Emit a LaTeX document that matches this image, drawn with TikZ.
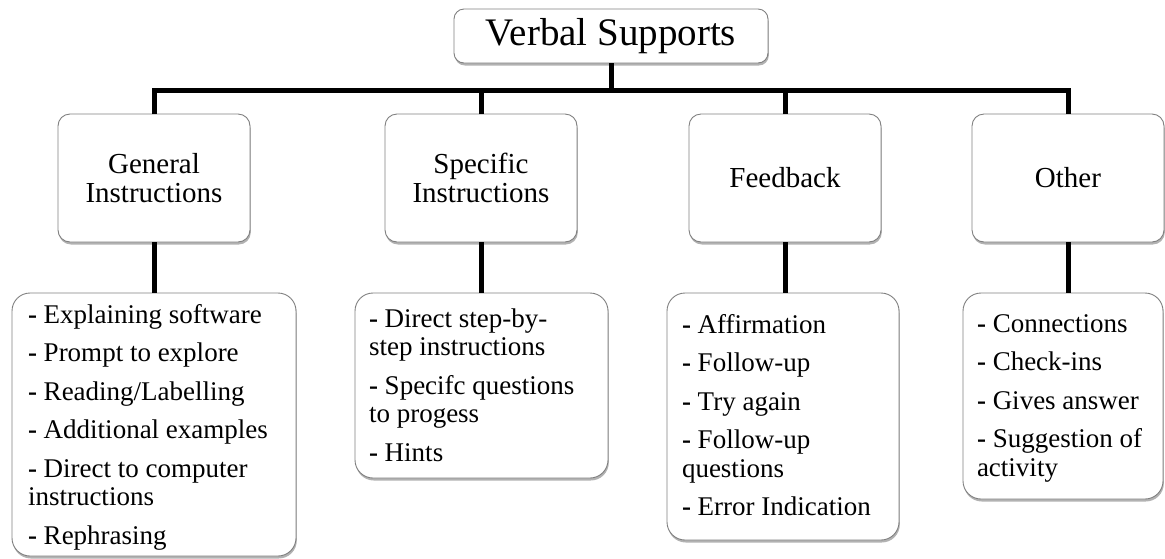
\documentclass[tikz,border=0pt]{standalone}
\usepackage{fontspec}
\setmainfont{Liberation Serif}
\usetikzlibrary{shadows}
\newcommand{\dd}{\textbf{-} }
\begin{document}
\begin{tikzpicture}[x=1pt,y=-1pt,
  box/.style={draw=black!50, line width=0.9pt, fill=white, inner sep=0pt, outer sep=0pt,
    drop shadow={shadow xshift=0.8pt, shadow yshift=-2.5pt, opacity=0.3, fill=black}},
  topbox/.style={box, rounded corners=10pt, minimum width=314pt, minimum height=54pt,
    font=\fontsize{39}{44}\selectfont},
  midbox/.style={box, rounded corners=12pt, minimum width=192pt, minimum height=128pt,
    align=center, font=\fontsize{29}{29}\selectfont},
  lowbox/.style={box, rounded corners=18pt, anchor=north west},
  itemtext/.style={anchor=north west, inner sep=0pt, outer sep=0pt, align=left,
    font=\fontsize{27}{28.5}\selectfont},
  conn/.style={line width=5pt, black}]
\useasboundingbox (0,0) rectangle (1165,558);
% level 0
\node[topbox] (top) at (611,36) {Verbal Supports};
% level 1
\node[midbox] (g) at (154,178) {General\\Instructions};
\node[midbox] (s) at (481,178) {Specific\\Instructions};
\node[midbox] (f) at (785,178) {Feedback};
\node[midbox] (o) at (1068,178) {Other};
% level 2 boxes
\node[lowbox, minimum width=284pt, minimum height=263pt] (b1) at (12,293) {};
\node[lowbox, minimum width=253pt, minimum height=185pt] (b2) at (355,293) {};
\node[lowbox, minimum width=232pt, minimum height=247pt] (b3) at (667,293) {};
\node[lowbox, minimum width=200pt, minimum height=206pt] (b4) at (963,293) {};
% level 2 texts
\node[itemtext] (t1) at (28,303) {\rule{0pt}{20pt}\dd Explaining software\\[10pt]
  \dd Prompt to explore\\[10pt]
  \dd Reading/Labelling\\[10pt]
  \dd Additional examples\\[10pt]
  \dd Direct to computer\\
  instructions\\[10pt]
  \dd Rephrasing};
\node[itemtext] (t2) at (369,307) {\rule{0pt}{20pt}\dd Direct step-by-\\
  step instructions\\[10pt]
  \dd Specifc questions\\
  to progess\\[10pt]
  \dd Hints};
\node[itemtext] (t3) at (682,313) {\rule{0pt}{20pt}\dd Affirmation\\[10pt]
  \dd Follow-up\\[10pt]
  \dd Try again\\[10pt]
  \dd Follow-up\\
  questions\\[10pt]
  \dd Error Indication};
\node[itemtext] (t4) at (977,312) {\rule{0pt}{20pt}\dd Connections\\[10pt]
  \dd Check-ins\\[10pt]
  \dd Gives answer\\[10pt]
  \dd Suggestion of\\
  activity};
% connectors
\coordinate (bus) at (611,90);
\draw[conn] (top.south) -- (bus);
\draw[conn] (g.north) |- (bus) -| (o.north);
\draw[conn] (s.north) -- (s.north |- bus);
\draw[conn] (f.north) -- (f.north |- bus);
\draw[conn] (g.south) -- (g.south |- b1.north);
\draw[conn] (s.south) -- (s.south |- b2.north);
\draw[conn] (f.south) -- (f.south |- b3.north);
\draw[conn] (o.south) -- (o.south |- b4.north);
\end{tikzpicture}
\end{document}
